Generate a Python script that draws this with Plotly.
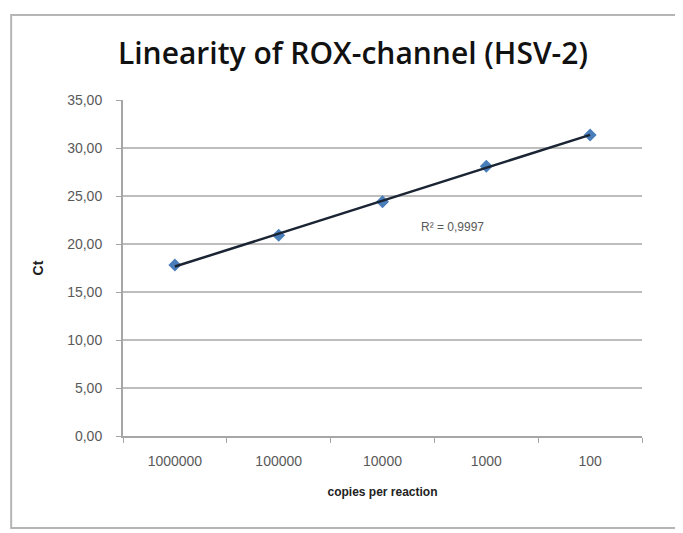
import numpy as np
import plotly.graph_objects as go

categories = ["1000000", "100000", "10000", "1000", "100"]
ct_values = [17.8, 20.9, 24.4, 28.1, 31.35]
y_tick_vals = [0, 5, 10, 15, 20, 25, 30, 35]
y_tick_text = ["0,00", "5,00", "10,00", "15,00", "20,00", "25,00", "30,00", "35,00"]
r2_label = "R² = 0,9997"

idx = np.arange(len(categories))
slope, intercept = np.polyfit(idx, ct_values, 1)
trend = slope * idx + intercept

fig = go.Figure()
fig.add_trace(go.Scatter(
    x=categories, y=ct_values, mode="markers",
    marker=dict(symbol="diamond", size=10, color="#4A7EBB"),
    showlegend=False,
))
fig.add_trace(go.Scatter(
    x=categories, y=trend, mode="lines",
    line=dict(color="#1A2433", width=2.5),
    showlegend=False,
))

fig.add_annotation(
    x=2.67, y=21.8, xref="x", yref="y",
    text=r2_label, showarrow=False,
    font=dict(family="Liberation Sans", size=12, color="#595959"),
)

fig.update_layout(
    width=675, height=525,
    paper_bgcolor="white", plot_bgcolor="white",
    margin=dict(l=115, r=41, t=92, b=97),
    title=dict(
        text="Linearity of ROX-channel (HSV-2)",
        x=0.511, xanchor="center", y=0.914, yanchor="middle",
        font=dict(family="Open Sans", size=30, weight=600, color="#111111"),
    ),
    xaxis=dict(
        type="category", range=[-0.5, 4.5],
        showgrid=False, showline=True, linecolor="#A6A6A6", linewidth=2,
        ticks="outside", tickson="boundaries", ticklen=5, tickcolor="#A6A6A6",
        ticklabelstandoff=11,
        tickfont=dict(family="Liberation Sans", size=14, color="#595959"),
        title=dict(text="<b>copies per reaction</b>", standoff=20,
                   font=dict(family="Liberation Sans", size=12, color="#222222")),
    ),
    yaxis=dict(
        range=[0, 35], tickvals=y_tick_vals, ticktext=y_tick_text,
        showgrid=True, gridcolor="#BDBDBD", gridwidth=2,
        showline=True, linecolor="#A6A6A6", linewidth=2,
        ticks="outside", ticklen=5, tickcolor="#A6A6A6",
        ticklabelstandoff=11,
        tickfont=dict(family="Liberation Sans", size=14, color="#595959"),
        title=dict(text="<b>Ct</b>", standoff=20,
                   font=dict(family="Liberation Sans", size=14, color="#222222")),
        zeroline=False,
    ),
)

fig.add_shape(type="rect", xref="paper", yref="paper",
              x0=-0.2155, x1=1.0777, y0=-0.274, y1=1.253,
              line=dict(color="#B5B5B5", width=2), layer="below")

fig.write_html("out.html")
